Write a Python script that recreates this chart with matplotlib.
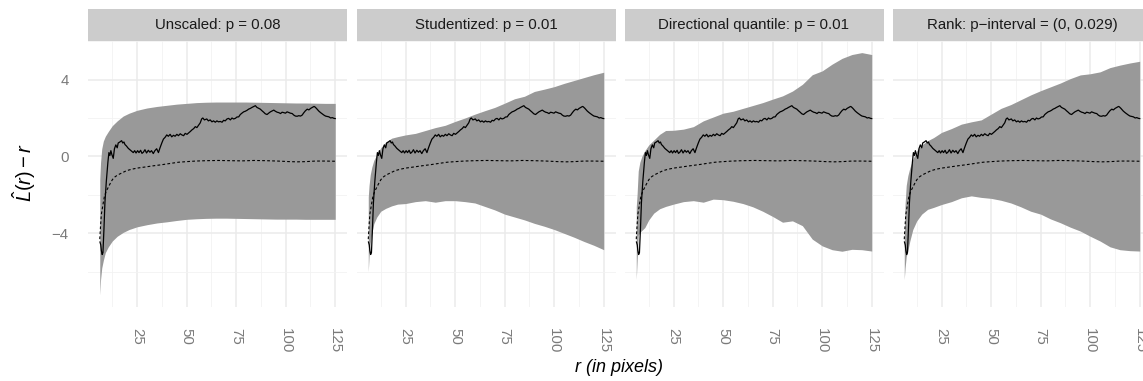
import numpy as np
import matplotlib
matplotlib.use("Agg")
import matplotlib.pyplot as plt

plt.rcParams['font.family'] = ['Liberation Sans', 'DejaVu Sans']
plt.rcParams['mathtext.fontset'] = 'custom'
plt.rcParams['mathtext.rm'] = 'Liberation Sans'
plt.rcParams['mathtext.it'] = 'Liberation Sans:italic'

# observed L(r) - r curve (same in every panel)
obs_r = [6.3, 6.7, 7.0, 7.4, 7.8, 8.3, 8.8, 9.5, 10.3, 10.8, 11.3, 11.8, 12.3, 13.0, 13.6,
         14.3, 15.0, 15.5, 16.3, 17.2, 17.8, 18.4, 18.9, 19.6, 20.6, 21.4, 22.2, 23.1, 23.8,
         24.5, 25.3, 26.0, 26.8, 27.5, 28.2, 29.0, 29.8, 30.7, 31.5, 32.3, 33.2, 34.0, 34.9,
         35.8, 36.6, 37.5, 38.3, 39.2, 40.0, 40.8, 41.7, 42.5, 43.4, 44.2, 45.1, 45.9, 46.8,
         47.6, 48.5, 49.3, 50.2, 51.0, 51.9, 52.7, 53.6, 54.4, 55.2, 56.0, 56.9, 57.6, 58.2,
         59.0, 60.2, 61.0, 61.9, 62.8, 63.6, 64.5, 65.3, 66.1, 67.0, 67.9, 68.7, 69.5, 70.4,
         71.2, 72.1, 72.9, 73.7, 74.6, 75.4, 76.3, 77.1, 77.9, 78.8, 79.6, 80.5, 81.3, 82.2,
         83.0, 84.0, 84.7, 85.5, 86.4, 87.2, 88.0, 88.9, 89.7, 90.6, 91.4, 92.3, 93.1, 94.0,
         94.8, 95.7, 96.5, 97.4, 98.2, 99.0, 99.9, 100.7, 101.6, 102.4, 103.3, 104.1, 104.9,
         105.8, 106.6, 107.5, 108.3, 109.2, 110.0, 110.9, 111.7, 112.6, 113.4, 114.3, 114.7,
         115.5, 116.7, 117.6, 118.4, 119.3, 120.1, 121.0, 121.8, 122.7, 123.5, 124.4, 125.0]
obs_y = [-4.45, -4.6, -4.9, -5.1, -5.0, -3.8, -2.4, -1.3, -0.3, 0.2, 0.05, 0.3, 0.1, -0.1, 0.4,
         0.6, 0.45, 0.7, 0.75, 0.82, 0.7, 0.75, 0.62, 0.55, 0.42, 0.35, 0.28, 0.2, 0.3,
         0.18, 0.3, 0.2, 0.32, 0.16, 0.22, 0.35, 0.18, 0.32, 0.22, 0.3, 0.15, 0.3, 0.4,
         0.2, 0.45, 0.7, 0.9, 1.0, 1.12, 1.05, 1.15, 1.02, 1.1, 1.05, 1.15, 1.08, 1.18,
         1.12, 1.08, 1.2, 1.15, 1.22, 1.3, 1.38, 1.45, 1.55, 1.5, 1.62, 1.75, 1.95, 2.0,
         1.9, 1.95, 1.85, 1.9, 1.8, 1.85, 1.78, 1.85, 1.8, 1.82, 1.78, 1.88, 1.85, 1.95,
         1.98, 1.9, 2.0, 1.95, 1.98, 2.05, 2.06, 2.18, 2.25, 2.32, 2.35, 2.4, 2.46, 2.5,
         2.55, 2.6, 2.64, 2.55, 2.5, 2.46, 2.38, 2.3, 2.22, 2.18, 2.25, 2.32, 2.36, 2.41,
         2.35, 2.3, 2.28, 2.23, 2.3, 2.28, 2.25, 2.32, 2.28, 2.25, 2.23, 2.15, 2.1,
         2.09, 2.12, 2.1, 2.15, 2.28, 2.38, 2.46, 2.42, 2.5, 2.55, 2.6, 2.58,
         2.5, 2.36, 2.28, 2.22, 2.15, 2.1, 2.08, 2.06, 2.0, 2.02, 1.98, 1.97]

# central (expected) curve
mid_r = [6.2, 6.6, 7.0, 7.5, 7.9, 8.5, 9.3, 10.5, 11.5, 12.6, 14.0, 15.5, 17.5, 19.7, 22.5,
         25.5, 29.0, 33.0, 37.5, 42.0, 46.0, 50.0, 54.5, 60.0, 66.0, 72.0, 78.0, 84.0, 90.0,
         96.0, 102.0, 106.0, 110.0, 115.0, 120.0, 125.0]
mid_y = [-4.3, -3.6, -3.0, -2.7, -2.45, -2.1, -1.85, -1.6, -1.4, -1.2, -1.05, -0.95, -0.85,
         -0.74, -0.66, -0.6, -0.55, -0.49, -0.43, -0.36, -0.3, -0.27, -0.24, -0.22, -0.21,
         -0.22, -0.23, -0.21, -0.22, -0.24, -0.27, -0.28, -0.27, -0.24, -0.24, -0.25]

# envelopes, one per scaling method
env_r = [6.2, 6.6, 7.2, 8.0, 9.0, 10.5, 12.5, 15, 18, 21, 25, 30, 35, 40, 45, 50, 55, 60,
         65, 70, 75, 80, 85, 90, 95, 100, 105, 110, 115, 120, 125]
unscaled_lo = [-7.2, -6.4, -5.8, -5.4, -5.0, -4.7, -4.4, -4.15, -3.95, -3.8, -3.66, -3.55,
               -3.46, -3.4, -3.33, -3.27, -3.24, -3.22, -3.21, -3.21, -3.22, -3.23, -3.24,
               -3.25, -3.26, -3.26, -3.26, -3.27, -3.27, -3.27, -3.27]
unscaled_hi = [-1.2, -0.3, 0.4, 0.8, 1.05, 1.3, 1.6, 1.85, 2.1, 2.25, 2.4, 2.52, 2.6, 2.66,
               2.72, 2.76, 2.8, 2.82, 2.83, 2.83, 2.83, 2.83, 2.82, 2.81, 2.8, 2.79, 2.78,
               2.78, 2.77, 2.76, 2.76]
student_lo = [-6.0, -5.2, -4.5, -4.0, -3.5, -3.15, -2.85, -2.7, -2.57, -2.48, -2.45, -2.35,
              -2.3, -2.38, -2.3, -2.3, -2.35, -2.42, -2.6, -2.78, -3.0, -3.15, -3.3, -3.48,
              -3.63, -3.8, -4.0, -4.2, -4.42, -4.62, -4.85]
student_hi = [-2.1, -1.5, -0.95, -0.55, -0.2, 0.1, 0.45, 0.75, 0.95, 1.03, 1.12, 1.2, 1.35,
              1.5, 1.62, 1.82, 2.0, 2.2, 2.38, 2.55, 2.77, 3.0, 3.13, 3.38, 3.5, 3.63, 3.8,
              3.95, 4.1, 4.25, 4.38]
dirq_lo = [-6.4, -5.5, -4.1, -3.95, -3.85, -3.7, -3.3, -2.95, -2.72, -2.6, -2.48, -2.35,
           -2.3, -2.38, -2.22, -2.25, -2.33, -2.45, -2.62, -2.85, -3.12, -3.42, -3.35, -3.6,
           -4.3, -4.65, -4.85, -4.93, -4.83, -4.85, -4.92]
dirq_hi = [-2.6, -2.0, -0.75, -0.3, 0.0, 0.3, 0.6, 0.85, 1.15, 1.35, 1.36, 1.42, 1.55, 1.85,
           2.05, 2.25, 2.35, 2.5, 2.65, 2.8, 2.98, 3.15, 3.4, 3.75, 4.25, 4.45, 4.8, 5.1,
           5.3, 5.4, 5.3]
rank_lo = [-6.4, -5.8, -5.2, -4.9, -4.4, -3.8, -3.35, -3.0, -2.75, -2.65, -2.5, -2.35, -2.15,
           -2.05, -2.13, -2.18, -2.28, -2.42, -2.62, -2.85, -3.0, -3.25, -3.45, -3.68, -3.88,
           -4.15, -4.4, -4.7, -4.85, -4.9, -4.92]
rank_hi = [-4.2, -2.5, -1.5, -1.0, -0.6, -0.15, 0.3, 0.6, 0.82, 0.98, 1.25, 1.45, 1.68, 1.8,
           1.9, 2.2, 2.5, 2.7, 2.95, 3.2, 3.42, 3.62, 3.82, 4.05, 4.24, 4.3, 4.4, 4.62, 4.75,
           4.86, 4.95]

titles = ["Unscaled: p = 0.08", "Studentized: p = 0.01",
          "Directional quantile: p = 0.01", "Rank: p\u2212interval = (0, 0.029)"]
lows = [unscaled_lo, student_lo, dirq_lo, rank_lo]
highs = [unscaled_hi, student_hi, dirq_hi, rank_hi]

W, H = 1143, 381
fig = plt.figure(figsize=(W / 100, H / 100), dpi=100)

# ggplot-style 5% expansion of the data range
allx = env_r + obs_r
ally = sum(lows, []) + sum(highs, [])
xr = max(allx) - min(allx)
yr = max(ally) - min(ally)
xlim = (min(allx) - 0.05 * xr, max(allx) + 0.05 * xr)
ylim = (min(ally) - 0.05 * yr, max(ally) + 0.05 * yr)

lefts = [88, 356.5, 624.5, 892.5]
pw = 259
ptop, pbot = 40.5, 307
strip_top = 9

for i in range(4):
    ax = fig.add_axes([lefts[i] / W, (H - pbot) / H, pw / W, (pbot - ptop) / H])
    ax.fill_between(env_r, lows[i], highs[i], color='#999999', linewidth=0, zorder=2)
    ax.plot(obs_r, obs_y, color='black', linewidth=0.9, zorder=3)
    ax.plot(mid_r, mid_y, color='black', linewidth=0.8, linestyle=(0, (2.5, 2)), zorder=3)
    ax.set_xlim(xlim)
    ax.set_ylim(ylim)
    ax.set_xticks([25, 50, 75, 100, 125])
    ax.set_xticks([12.5, 37.5, 62.5, 87.5, 112.5], minor=True)
    ax.set_yticks([-4, 0, 4])
    ax.set_yticks([-6, -2, 2, 6], minor=True)
    ax.grid(True, which='major', color='#EBEBEB', linewidth=1.1, zorder=0)
    ax.grid(True, which='minor', color='#F2F2F2', linewidth=0.6, zorder=0)
    ax.set_axisbelow(True)
    for s in ax.spines.values():
        s.set_visible(False)
    ax.tick_params(which='both', length=0)
    ax.tick_params(axis='x', labelsize=10.8, labelcolor='#7A7A7A', pad=15, labelrotation=270)
    ax.tick_params(axis='y', labelsize=10.8, labelcolor='#7A7A7A', pad=14)
    for lab in ax.get_xticklabels():
        lab.set_va('top')
        lab.set_ha('center')
    if i > 0:
        ax.set_yticklabels([])

    sax = fig.add_axes([lefts[i] / W, (H - ptop) / H, pw / W, (ptop - strip_top) / H])
    sax.set_facecolor('#CCCCCC')
    sax.set_xticks([])
    sax.set_yticks([])
    for s in sax.spines.values():
        s.set_visible(False)
    sax.text(0.5, 0.48, titles[i], ha='center', va='center', fontsize=10.8,
             color='#1A1A1A', transform=sax.transAxes)

fig.text(619 / W, (H - 368) / H, "r (in pixels)", ha='center', va='center',
         fontsize=13, style='italic', color='black')
fig.text(24 / W, (H - 172) / H, r"$\hat{L}(r) - r$", ha='center', va='center',
         rotation=90, fontsize=14.5, color='black')

fig.savefig("out.png", dpi=100)
